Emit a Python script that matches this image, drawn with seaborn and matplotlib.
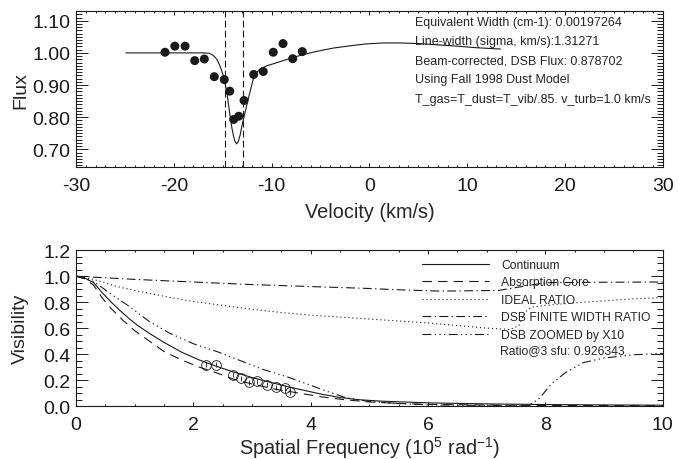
import matplotlib
matplotlib.use("Agg")
import matplotlib.pyplot as plt
import seaborn as sb
import numpy as np
from matplotlib.ticker import MultipleLocator, FormatStrFormatter

sb.set_theme(style="ticks")
plt.rcParams['font.family'] = ['Liberation Sans', 'DejaVu Sans']
plt.rcParams['mathtext.fontset'] = 'custom'
plt.rcParams['mathtext.rm'] = 'Liberation Sans'
plt.rcParams['mathtext.it'] = 'Liberation Sans'
plt.rcParams['axes.unicode_minus'] = False

#######----------------- top panel: line profile ----------------------------#######
vel_obs = [-20.9, -19.9, -18.85, -17.86, -16.88, -15.86, -14.84, -14.28, -13.88,
           -13.36, -12.82, -11.83, -10.85, -9.83, -8.83, -7.84, -6.86]
flux_obs = [1.002, 1.021, 1.021, 0.976, 0.981, 0.926, 0.917, 0.881, 0.793,
            0.803, 0.852, 0.933, 0.942, 1.002, 1.029, 0.982, 1.004]

vel_model = [-24.9, -20, -17, -16.4, -16.0, -15.6, -15.3, -15.0, -14.75, -14.5, -14.25,
             -14.05, -13.9, -13.75, -13.57, -13.4, -13.23, -13.0, -12.75, -12.55, -12.2,
             -11.87, -11.5, -11.19, -10.5, -9.83, -8.5, -7.1, -5.5, -3.7, -2, -0.3,
             1.5, 3.1, 5, 7, 9, 11, 13.4]
flux_model = [1.000, 1.000, 1.000, 0.999, 0.993, 0.980, 0.961, 0.935, 0.904, 0.86, 0.805,
              0.765, 0.742, 0.725, 0.717, 0.725, 0.743, 0.778, 0.81, 0.836, 0.88,
              0.919, 0.940, 0.950, 0.960, 0.966, 0.979, 0.992, 1.004, 1.015, 1.022, 1.028,
              1.031, 1.031, 1.029, 1.025, 1.021, 1.016, 1.012]

core_edges = [-14.77, -12.89]

info_lines = ["Equivalent Width (cm-1): 0.00197264",
              "Line-width (sigma, km/s):1.31271",
              "Beam-corrected, DSB Flux: 0.878702",
              "Using Fall 1998 Dust Model",
              "T_gas=T_dust=T_vib/.85. v_turb=1.0 km/s"]

#######----------------- bottom panel: visibilities -------------------------#######
sf_cont = [0, 0.15, 0.3, 0.45, 0.6, 0.75, 0.9, 1.05, 1.25, 1.5, 1.8, 2.1, 2.4, 2.7, 3.0,
           3.3, 3.6, 3.9, 4.2, 4.5, 4.8, 5.2, 6, 7, 8, 9, 10]
vis_cont = [1.0, 0.985, 0.95, 0.87, 0.80, 0.735, 0.675, 0.62, 0.56, 0.49, 0.415, 0.355,
            0.305, 0.26, 0.22, 0.185, 0.15, 0.12, 0.09, 0.066, 0.05, 0.038, 0.025,
            0.017, 0.012, 0.009, 0.007]

sf_core = [0, 0.15, 0.3, 0.45, 0.6, 0.8, 1.0, 1.25, 1.5, 1.8, 2.1, 2.4, 2.7, 3.0, 3.4,
           3.8, 4.2, 4.6, 5.0, 5.5, 6, 7, 8, 10]
vis_core = [1.0, 0.98, 0.93, 0.83, 0.75, 0.66, 0.58, 0.50, 0.42, 0.355, 0.30, 0.255,
            0.205, 0.17, 0.13, 0.10, 0.07, 0.048, 0.032, 0.02, 0.013, 0.008, 0.005, 0.003]

sf_ideal = [0, 0.3, 0.7, 1.0, 1.5, 2.0, 2.5, 3.0, 3.5, 4.0, 4.5, 5.0, 5.5, 6.0, 6.5, 7.0,
            7.4, 7.55, 7.65, 7.75, 8.0, 8.5, 9.0, 9.5, 10]
vis_ideal = [1.0, 0.975, 0.92, 0.89, 0.845, 0.805, 0.775, 0.745, 0.72, 0.70, 0.685, 0.67,
             0.655, 0.64, 0.62, 0.60, 0.59, 0.62, 0.72, 0.76, 0.775, 0.795, 0.81, 0.825, 0.835]

sf_dsb = [0, 1.0, 2.0, 3.0, 4.0, 5.0, 5.5, 6.2, 7.2, 7.6, 8.0, 9.0, 10]
vis_dsb = [1.0, 0.975, 0.955, 0.935, 0.92, 0.905, 0.895, 0.885, 0.89, 0.92, 0.95, 0.953, 0.955]

sf_zoom = [0, 0.3, 0.6, 0.9, 1.25, 1.6, 2.0, 2.4, 2.8, 3.2, 3.6, 4.0, 4.3, 4.6, 5.0, 5.5,
           6.0, 7.0, 7.7, 7.9, 8.1, 8.35, 8.65, 9.0, 9.5, 10]
vis_zoom = [1.0, 0.96, 0.86, 0.77, 0.65, 0.56, 0.48, 0.42, 0.35, 0.28, 0.225, 0.16, 0.11,
            0.065, 0.035, 0.02, 0.01, 0.005, 0.0, 0.06, 0.17, 0.26, 0.335, 0.37, 0.395, 0.405]

sf_obs = [2.21, 2.39, 2.67, 2.81, 2.94, 3.09, 3.26, 3.41, 3.56, 3.65]
vis_obs = [0.32, 0.32, 0.242, 0.214, 0.184, 0.19, 0.166, 0.146, 0.14, 0.108]
vis_err = [0.02, 0.02, 0.02, 0.02, 0.02, 0.02, 0.02, 0.02, 0.02, 0.02]

ratio_text = "Ratio@3 sfu: 0.926343"

#######------------------------------------------------------------------------#######
fig = plt.figure(figsize=(6.79, 4.60), dpi=100)
ax1 = fig.add_axes([0.112, 0.634, 0.864, 0.339])
ax2 = fig.add_axes([0.112, 0.115, 0.864, 0.339])

lw = 0.8
sb.lineplot(x=vel_model, y=flux_model, ax=ax1, color='k', lw=lw, sort=False)
sb.scatterplot(x=vel_obs, y=flux_obs, ax=ax1, color='k', s=42, edgecolor='none')
for v in core_edges:
    ax1.axvline(v, color='k', lw=lw, ls=(0, (6, 3)))
for i, t in enumerate(info_lines):
    ax1.text(0.578, 0.933 - 0.123 * i, t, transform=ax1.transAxes, fontsize=9.0,
             va='center', ha='left')

ax1.set_xlim(-30, 30)
ax1.set_ylim(0.644, 1.129)
ax1.xaxis.set_major_locator(MultipleLocator(10))
ax1.xaxis.set_minor_locator(MultipleLocator(1))
ax1.yaxis.set_major_locator(MultipleLocator(0.1))
ax1.yaxis.set_minor_locator(MultipleLocator(0.01))
ax1.yaxis.set_major_formatter(FormatStrFormatter('%.2f'))
ax1.set_xlabel("Velocity (km/s)", fontsize=14.3)
ax1.set_ylabel("Flux", fontsize=14)

styles = [("Continuum", sf_cont, vis_cont, '-'),
          ("Absorption Core", sf_core, vis_core, (0, (8.5, 5.5))),
          ("IDEAL RATIO", sf_ideal, vis_ideal, (0, (1, 2.6))),
          ("DSB FINITE WIDTH RATIO", sf_dsb, vis_dsb, (0, (8, 3, 1.2, 3))),
          ("DSB ZOOMED by X10", sf_zoom, vis_zoom, (0, (8, 3, 1.2, 3, 1.2, 3, 1.2, 3)))]
for name, xs, ys, ls in styles:
    sb.lineplot(x=xs, y=ys, ax=ax2, color='k', lw=lw, linestyle=ls, label=name, sort=False)

ax2.errorbar(sf_obs, vis_obs, yerr=vis_err, fmt='o', mfc='none', mec='k', ecolor='k',
             ms=7, mew=0.6, elinewidth=0.6, capsize=0)

ax2.legend(loc='upper left', bbox_to_anchor=(0.589, 0.945), frameon=False, fontsize=8.7,
           handlelength=5.6, handletextpad=1.0, labelspacing=0.46, borderpad=0,
           borderaxespad=0)
ax2.text(0.722, 0.36, ratio_text, transform=ax2.transAxes, fontsize=8.7,
         va='center', ha='left')

ax2.set_xlim(0, 10)
ax2.set_ylim(0, 1.2)
ax2.xaxis.set_major_locator(MultipleLocator(2))
ax2.xaxis.set_minor_locator(MultipleLocator(0.5))
ax2.yaxis.set_major_locator(MultipleLocator(0.2))
ax2.yaxis.set_minor_locator(MultipleLocator(0.05))
ax2.yaxis.set_major_formatter(FormatStrFormatter('%.1f'))
ax2.set_xlabel(r"Spatial Frequency (10$^{5}$ rad$^{-1}$)", fontsize=14.3)
ax2.set_ylabel("Visibility", fontsize=14)

for ax in (ax1, ax2):
    for s in ax.spines.values():
        s.set_linewidth(0.8)
        s.set_color('k')
    ax.tick_params(which='both', direction='in', top=True, right=True, colors='k',
                   labelsize=14, width=0.7)
    ax.tick_params(axis='x', which='major', length=3.2, pad=7)
    ax.tick_params(axis='x', which='minor', length=1.6)
    ax.tick_params(axis='y', which='major', length=8.6, pad=4)
    ax.tick_params(axis='y', which='minor', length=4.3)
    ax.set_facecolor('white')

ax1.yaxis.set_label_coords(-0.08, 0.5)
ax2.yaxis.set_label_coords(-0.08, 0.5)
ax1.xaxis.set_label_coords(0.5, -0.222)
ax2.xaxis.set_label_coords(0.5, -0.18)

plt.savefig("out.png", dpi=100, facecolor='white')
plt.close()
